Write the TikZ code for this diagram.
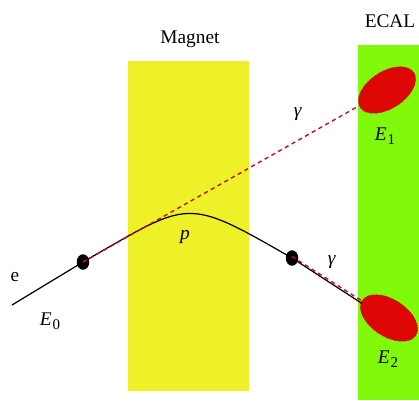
\documentclass[tikz,border=0pt]{standalone}
\usepackage{fontspec}
\setmainfont{Liberation Serif}
\usetikzlibrary{shapes.geometric}
\definecolor{magnetyellow}{RGB}{238,240,40}
\definecolor{ecalgreen}{RGB}{128,250,10}
\definecolor{showerred}{RGB}{222,5,5}
\definecolor{gammared}{RGB}{190,20,30}
\newcommand{\Esub}[1]{\textit{E}\kern0.05em\raisebox{-0.45ex}{\fontsize{8.5}{9}\selectfont #1}}
\tikzset{
  lbl/.style={font=\fontsize{11}{13}\selectfont, inner sep=0pt},
  vertex/.style={ellipse, fill=black, minimum width=0.25cm, minimum height=0.31cm, inner sep=0pt},
  shower/.style={ellipse, fill=showerred, draw=showerred!80!black, densely dotted, line width=0.4pt, minimum width=1.28cm, minimum height=0.74cm, inner sep=0pt},
  track/.style={line width=0.7pt, black},
  gammaline/.style={line width=0.8pt, gammared, dash pattern=on 2.4pt off 2pt}
}
\begin{document}
\begin{tikzpicture}[x=0.02cm,y=-0.02cm]
\useasboundingbox (0,0) rectangle (419,400);
\fill[white] (0,0) rectangle (419,400);
% magnet and calorimeter
\fill[magnetyellow] (128,61) rectangle (249,391);
\fill[ecalgreen] (358,45) rectangle (419,400);
\node[lbl] (magnet) at (190,39) {Magnet};
\node[lbl] (ecal) at (390,21) {ECAL};
% showers
\node[shower, rotate=33] (E1) at (387,90) {};
\node[shower, rotate=-33] (E2) at (389,318) {};
% vertices
\coordinate (start) at (12,305);
\node[vertex] (v1) at (83,262) {};
\node[vertex] (v2) at (292,258) {};
% tracks
\draw[track] (start) -- (v1.center);
\draw[track] (v1.center) .. controls (191,200) and (184,196) .. (v2.center);
\draw[track] (v2.center) -- ([yshift=-0.06cm]E2.west);
\draw[gammaline] (v1.center) -- (E1);
\draw[gammaline] ([yshift=0.03cm]v2.center) -- (E2);
% labels
\node[lbl] (e) at (15,277) {e};
\node[lbl] (E0) at (50,321) {\Esub{0}};
\node[lbl] (p) at (185,237) {\textit{p}};
\node[lbl] (g1) at (298,114) {\textit{γ}};
\node[lbl] (g2) at (332,262) {\textit{γ}};
\node[lbl] (E1l) at (385,136) {\Esub{1}};
\node[lbl] (E2l) at (388,359) {\Esub{2}};
\end{tikzpicture}
\end{document}
